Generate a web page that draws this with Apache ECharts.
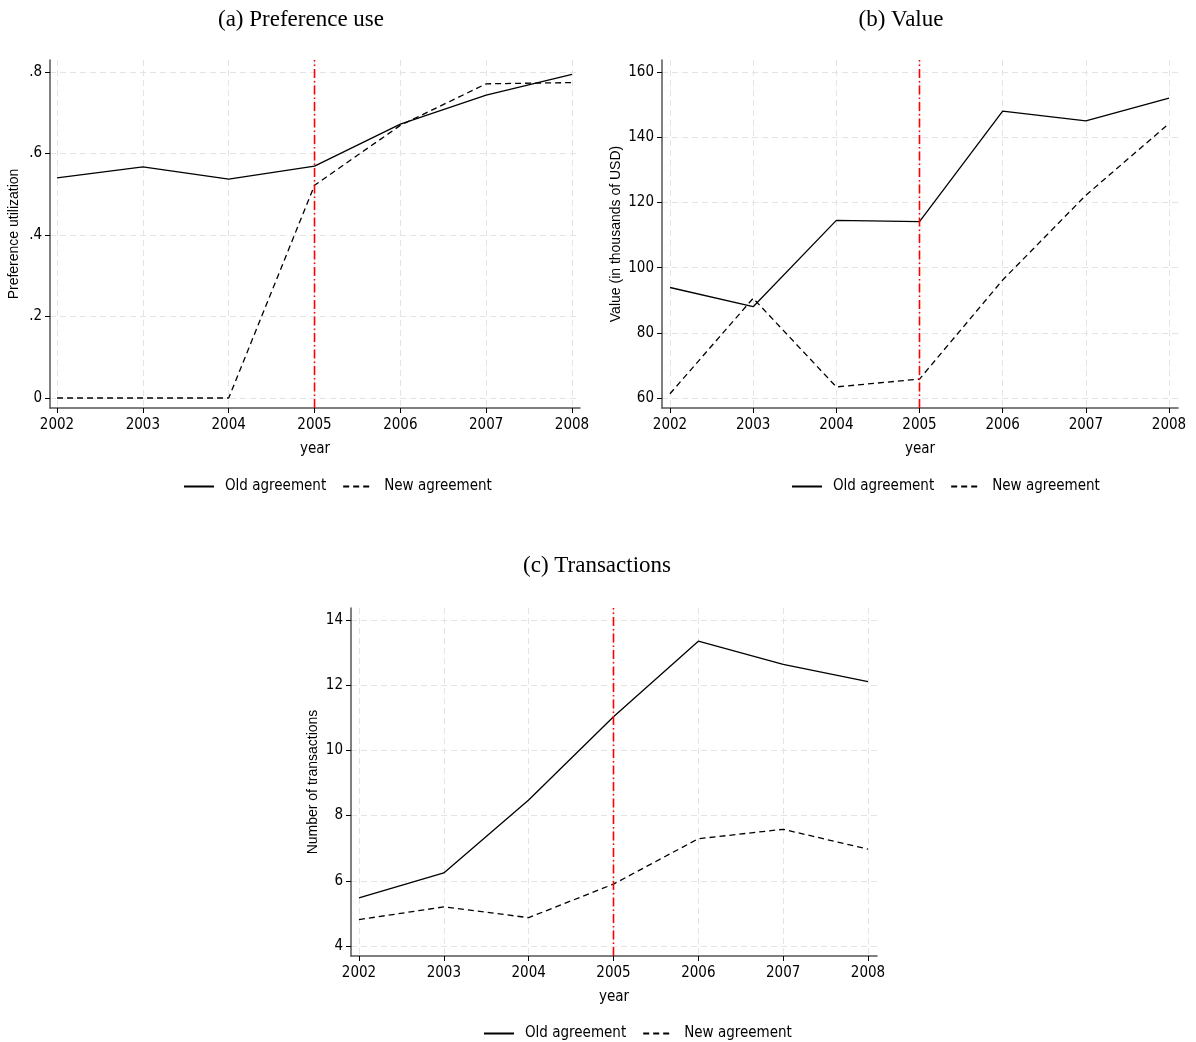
<!DOCTYPE html>
<html>
<head>
<meta charset="utf-8">
<script src="https://cdn.jsdelivr.net/npm/echarts@6/dist/echarts.min.js"></script>
<style>
html,body{margin:0;padding:0;background:#fff;}
#chart{width:1196px;height:1042px;}
</style>
</head>
<body>
<div id="chart"></div>
<script>
const years = [2002, 2003, 2004, 2005, 2006, 2007, 2008];
const prefOld = [0.540, 0.567, 0.537, 0.569, 0.672, 0.743, 0.794];
const prefNew = [0.000, 0.000, 0.000, 0.522, 0.669, 0.771, 0.774];
const valueOld = [93.9, 88.0, 114.5, 114.1, 148.0, 145.0, 152.0];
const valueNew = [61.3, 90.6, 63.4, 65.8, 96.2, 122.2, 144.2];
const transOld = [5.48, 6.24, 8.48, 11.03, 13.35, 12.64, 12.11];
const transNew = [4.81, 5.20, 4.87, 5.90, 7.29, 7.58, 6.97];
const prefTicks = [0, 0.2, 0.4, 0.6, 0.8];
const valueTicks = [60, 80, 100, 120, 140, 160];
const transTicks = [4, 6, 8, 10, 12, 14];
const treatYear = 2005;
const seriesNames = ['Old agreement', 'New agreement'];
const titles = ['(a) Preference use', '(b) Value', '(c) Transactions'];
const yNames = ['Preference utilization', 'Value (in thousands of USD)', 'Number of transactions'];
const xName = 'year';

const NARROW = '"Liberation Sans Narrow","DejaVu Sans Condensed","Arial Narrow",sans-serif';
const SANS = '"Liberation Sans",Arial,sans-serif';
const SERIF = '"Liberation Serif","Times New Roman",serif';

const grids = [
  {left: 50, top: 60, width: 530, height: 348},
  {left: 662, top: 60, width: 516, height: 348},
  {left: 351, top: 608, width: 526, height: 348}
];
const xRanges = [[2001.918, 2008.093], [2001.904, 2008.108], [2001.906, 2008.106]];
const yRanges = [[-0.0245, 0.8294], [56.93, 163.7], [3.694, 14.367]];
const yTickSets = [prefTicks, valueTicks, transTicks];
const yNameGaps = [29, 39, 31];
const dataSets = [[prefOld, prefNew], [valueOld, valueNew], [transOld, transNew]];

const gridLine = {show: true, lineStyle: {color: '#e4e4e4', width: 1, type: [6, 4]}};

function xAxis(i) {
  return {
    gridIndex: i, type: 'value', min: xRanges[i][0], max: xRanges[i][1],
    name: xName, nameLocation: 'middle', nameGap: 34,
    nameTextStyle: {fontFamily: NARROW, fontSize: 15, color: '#000'},
    axisLine: {show: true, onZero: false, lineStyle: {color: '#555', width: 1.5}},
    axisTick: {show: true, length: 5, customValues: years, lineStyle: {color: '#000', width: 1}},
    axisLabel: {customValues: years, margin: 10, fontFamily: NARROW, fontSize: 15, color: '#000',
      formatter: v => String(v)},
    splitLine: gridLine
  };
}
function yAxis(i) {
  return {
    gridIndex: i, type: 'value', min: yRanges[i][0], max: yRanges[i][1],
    name: yNames[i], nameLocation: 'middle', nameGap: yNameGaps[i], nameRotate: 90,
    nameTextStyle: {fontFamily: SANS, fontSize: 14, color: '#000'},
    axisLine: {show: true, onZero: false, lineStyle: {color: '#555', width: 1.5}},
    axisTick: {show: true, length: 5, customValues: yTickSets[i], lineStyle: {color: '#000', width: 1}},
    axisLabel: {customValues: yTickSets[i], margin: 8, fontFamily: NARROW, fontSize: 15, color: '#000',
      formatter: v => (i === 0 ? (v === 0 ? '0' : String(+v.toFixed(1)).replace(/^0\./, '.')) : String(v))},
    splitLine: gridLine
  };
}

const series = [];
for (let i = 0; i < 3; i++) {
  for (let k = 0; k < 2; k++) {
    series.push({
      name: seriesNames[k], type: 'line', xAxisIndex: i, yAxisIndex: i,
      data: years.map((y, j) => [y, dataSets[i][k][j]]),
      symbol: 'none', silent: true, z: 2,
      lineStyle: {color: '#000', width: 1.3, type: k === 0 ? 'solid' : [6, 4]},
      itemStyle: {color: '#000'}
    });
  }
  // reform-year reference line, spanning the full plot height
  series.push({
    name: 'reform' + i, type: 'line', xAxisIndex: i, yAxisIndex: i,
    data: [[treatYear, yRanges[i][0]], [treatYear, yRanges[i][1]]],
    symbol: 'none', silent: true, z: 3,
    lineStyle: {color: 'rgb(255,0,0)', width: 1.6, type: [9, 3, 1.5, 3]},
    itemStyle: {color: 'rgb(255,0,0)'}
  });
}

const legendPos = [{left: 178, top: 474}, {left: 786, top: 474}, {left: 478, top: 1021}];
const legends = legendPos.map(p => ({
  left: p.left, top: p.top, data: seriesNames, itemWidth: 30, itemHeight: 14, itemGap: 16,
  selectedMode: false,
  itemStyle: {opacity: 0, borderWidth: 0},
  textStyle: {fontFamily: NARROW, fontSize: 15, color: '#000', padding: [0, 0, 0, 6]}
}));

const titleComps = [
  {text: titles[0], left: 296, top: 3, textAlign: 'center'},
  {text: titles[1], left: 896, top: 3, textAlign: 'center'},
  {text: titles[2], left: 592, top: 549, textAlign: 'center'}
].map(t => Object.assign(t, {textStyle: {fontFamily: SERIF, fontSize: 23, fontWeight: 'normal', color: '#000'}}));

const chart = echarts.init(document.getElementById('chart'));
chart.setOption({
  animation: false,
  backgroundColor: '#fff',
  title: titleComps,
  legend: legends,
  grid: grids,
  xAxis: [0, 1, 2].map(xAxis),
  yAxis: [0, 1, 2].map(yAxis),
  series: series
});
</script>
</body>
</html>
